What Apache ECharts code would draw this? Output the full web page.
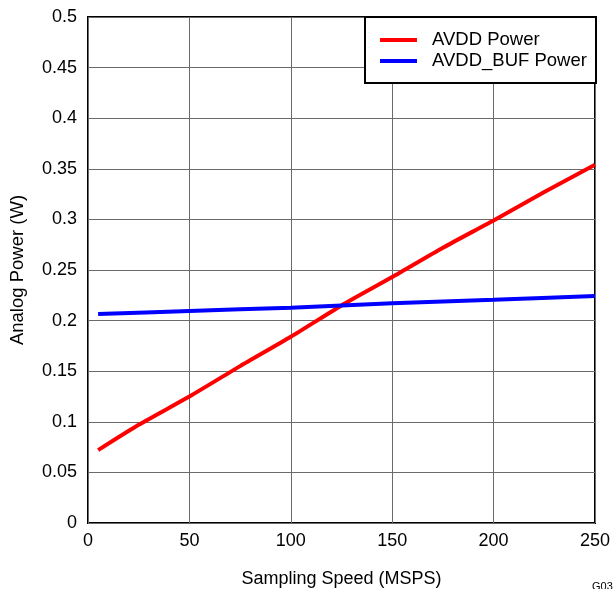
<!DOCTYPE html>
<html><head><meta charset="utf-8">
<script src="https://cdn.jsdelivr.net/npm/echarts@6/dist/echarts.min.js"></script>
<style>html,body{margin:0;padding:0;background:#fff}#c{width:613px;height:589px}</style>
</head><body><div id="c"></div>
<script>
const speedAvdd = [5, 25, 50, 75, 100, 125, 150, 175, 200, 225, 250];
const avddPower = [0.072, 0.097, 0.125, 0.155, 0.184, 0.215, 0.243, 0.272, 0.299, 0.327, 0.354];
const speedBuf = [5, 50, 100, 150, 200, 250];
const avddBufPower = [0.2065, 0.2095, 0.2128, 0.2172, 0.2205, 0.2242];
const seriesNames = ['AVDD Power', 'AVDD_BUF Power'];
const xTitle = 'Sampling Speed (MSPS)';
const yTitle = 'Analog Power (W)';

const chart = echarts.init(document.getElementById('c'));
const font = 'Liberation Sans, Arial, sans-serif';
chart.setOption({
  animation: false,
  grid: {left: 88, right: 18, top: 17, bottom: 66, show: true, borderColor: '#000', borderWidth: 2,
         containLabel: false, outerBoundsMode: 'none'},
  xAxis: {
    type: 'value', min: 0, max: 250, interval: 50,
    name: xTitle, nameLocation: 'middle', nameGap: 47,
    nameTextStyle: {fontFamily: font, fontSize: 18, color: '#000'},
    axisLine: {show: false}, axisTick: {show: false},
    axisLabel: {fontFamily: font, fontSize: 18, color: '#000', margin: 9},
    splitLine: {lineStyle: {color: '#6a6a6a', width: 1}}
  },
  yAxis: {
    type: 'value', min: 0, max: 0.5, interval: 0.05,
    name: yTitle, nameLocation: 'middle', nameGap: 61, nameRotate: 90,
    nameTextStyle: {fontFamily: font, fontSize: 18.5, color: '#000'},
    axisLine: {show: false}, axisTick: {show: false},
    axisLabel: {fontFamily: font, fontSize: 18, color: '#000', margin: 11},
    splitLine: {lineStyle: {color: '#6a6a6a', width: 1}}
  },
  series: [
    {name: seriesNames[0], type: 'line', showSymbol: false, smooth: 0.2,
     data: speedAvdd.map((x, i) => [x, avddPower[i]]),
     lineStyle: {color: '#ff0000', width: 4}, itemStyle: {color: '#ff0000'}},
    {name: seriesNames[1], type: 'line', showSymbol: false, smooth: 0.2,
     data: speedBuf.map((x, i) => [x, avddBufPower[i]]),
     lineStyle: {color: '#0000ff', width: 4}, itemStyle: {color: '#0000ff'}}
  ],
  graphic: [
    {type: 'rect', shape: {x: 365, y: 17, width: 231, height: 66}, style: {fill: '#fff', stroke: '#000', lineWidth: 2}, z: 100},
    {type: 'line', shape: {x1: 380, y1: 40, x2: 417, y2: 40}, style: {stroke: '#ff0000', lineWidth: 4}, z: 101},
    {type: 'line', shape: {x1: 380, y1: 61, x2: 417, y2: 61}, style: {stroke: '#0000ff', lineWidth: 4}, z: 101},
    {type: 'text', x: 432, y: 40, style: {text: seriesNames[0], font: '18.5px ' + font, fill: '#000', textVerticalAlign: 'middle'}, z: 101},
    {type: 'text', x: 432, y: 61, style: {text: seriesNames[1], font: '18.5px ' + font, fill: '#000', textVerticalAlign: 'middle'}, z: 101},
    {type: 'text', x: 592, y: 581, style: {text: 'G03', font: '11px ' + font, fill: '#000'}, z: 101}
  ]
});
</script></body></html>
